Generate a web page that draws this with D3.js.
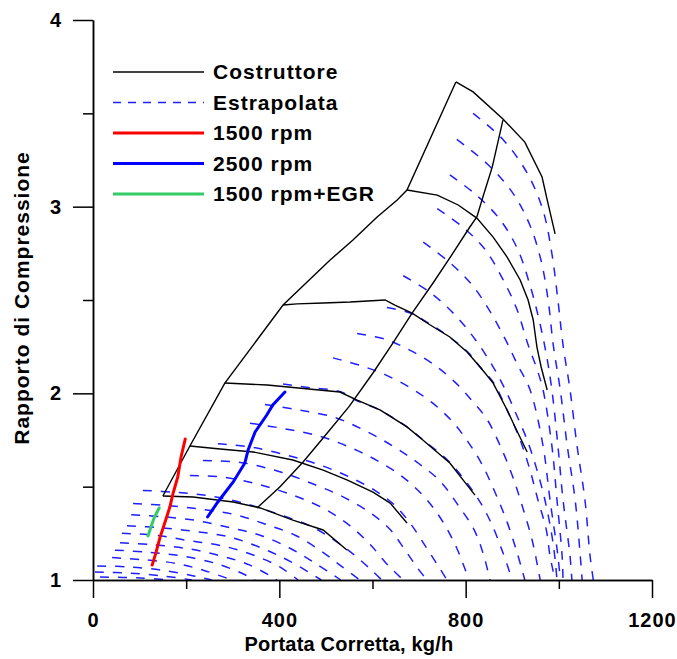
<!DOCTYPE html>
<html>
<head>
<meta charset="utf-8">
<script src="https://cdn.jsdelivr.net/npm/d3@7"></script>
<style>
  body { margin: 0; background: #fff; }
  text { font-family: "Liberation Sans", Arial, sans-serif; font-weight: bold; }
</style>
</head>
<body>
<script>
// axes
const xMajor = [0, 400, 800, 1200];
const xMinor = [200, 600, 1000];
const yMajor = [1, 2, 3, 4];
const yMinor = [1.5, 2.5, 3.5];

// Costruttore (black) lines: [portata kg/h, rapporto]
const surgeLine = [[150,1.45],[208,1.718],[283,2.055],[408,2.473],[509,2.714],[558,2.821],[610,2.945],[653,3.036],[674,3.089],[779,3.668]];
const speed1 = [[779,3.668],[816,3.615],[880,3.47],[927,3.346],[964,3.159],[975,3.036],[992,2.854]];
const speed2 = [[674,3.089],[739,3.062],[784,3.009],[824,2.939],[859,2.837],[889,2.73],[917,2.607],[934,2.5],[945,2.393],[953,2.248],[962,2.141],[975,2.018]];
const speed3 = [[408,2.473],[438,2.479],[494,2.484],[552,2.489],[627,2.5],[648,2.473],[685,2.43],[724,2.366],[766,2.302],[803,2.221],[831,2.141],[859,2.055],[889,1.911],[906,1.82],[932,1.686]];
const speed4 = [[283,2.055],[374,2.045],[530,2.007],[567,1.964],[616,1.911],[674,1.82],[708,1.75],[766,1.627],[820,1.455]];
const speed5 = [[208,1.718],[273,1.702],[344,1.686],[429,1.643],[494,1.589],[545,1.536],[601,1.471],[638,1.412],[674,1.305]];
const speed6 = [[150,1.45],[215,1.445],[301,1.418],[359,1.386],[429,1.321],[494,1.268],[545,1.161]];
const crossLine = [[352,1.386],[401,1.498],[451,1.632],[494,1.761],[550,1.93],[601,2.109],[644,2.27],[685,2.43],[730,2.591],[773,2.752],[809,2.891],[824,2.945],[837,3.052],[857,3.212],[880,3.464]];

// Estrapolata (blue dashed) lines
const estrapolata = [
  [[816,3.50],[880,3.36],[932,3.18],[966,2.98],[985,2.75],[998,2.50],[1009,2.26],[1024,2.02],[1039,1.72],[1056,1.43],[1067,1.13],[1074,1.0]],
  [[781,3.36],[846,3.23],[902,3.07],[938,2.90],[962,2.71],[977,2.50],[988,2.26],[1003,2.02],[1018,1.72],[1035,1.43],[1046,1.13],[1050,1.0]],
  [[766,3.17],[824,3.06],[874,2.93],[912,2.77],[938,2.58],[958,2.39],[973,2.21],[985,2.02],[998,1.72],[1009,1.43],[1024,1.13],[1028,1.0]],
  [[739,2.99],[794,2.89],[842,2.77],[880,2.61],[910,2.45],[934,2.26],[953,2.13],[966,2.02],[985,1.72],[996,1.43],[1007,1.13],[1009,1.0]],
  [[709,2.81],[766,2.70],[814,2.58],[852,2.44],[885,2.29],[912,2.15],[938,2.02],[966,1.72],[981,1.43],[998,1.13],[1003,1.0]],
  [[666,2.63],[724,2.54],[777,2.42],[820,2.29],[857,2.15],[885,2.02],[910,1.88],[932,1.75],[953,1.59],[970,1.43],[985,1.24],[992,1.11],[996,1.0]],
  [[631,2.46],[681,2.43],[724,2.37],[766,2.30],[805,2.22],[831,2.14],[859,2.06],[889,1.91],[917,1.75],[938,1.59],[955,1.43],[973,1.27],[981,1.13],[992,1.0]],
  [[567,2.32],[627,2.29],[681,2.23],[734,2.15],[777,2.06],[814,1.96],[846,1.86],[874,1.72],[900,1.56],[921,1.40],[943,1.21],[960,1.0]],
  [[515,2.19],[573,2.15],[627,2.10],[681,2.03],[728,1.95],[771,1.85],[805,1.74],[835,1.62],[863,1.47],[889,1.31],[910,1.15],[927,1.0]],
  [[408,2.05],[466,2.03],[530,2.01],[567,1.96],[616,1.91],[674,1.82],[709,1.75],[766,1.63],[820,1.46],[852,1.32],[878,1.16],[900,1.0]],
  [[369,1.94],[444,1.91],[520,1.87],[584,1.80],[642,1.72],[696,1.63],[745,1.53],[784,1.40],[818,1.27],[839,1.13],[852,1.0]],
  [[337,1.84],[412,1.81],[487,1.77],[552,1.71],[610,1.64],[666,1.55],[713,1.44],[749,1.32],[781,1.17],[807,1.0]],
  [[268,1.73],[344,1.71],[429,1.66],[494,1.61],[552,1.55],[605,1.48],[648,1.40],[685,1.29],[719,1.16],[745,1.06],[760,1.0]],
  [[236,1.64],[316,1.63],[401,1.58],[477,1.51],[541,1.44],[595,1.36],[638,1.27],[670,1.16],[698,1.06],[717,1.0]],
  [[208,1.56],[283,1.55],[359,1.51],[434,1.45],[498,1.38],[552,1.29],[595,1.19],[633,1.08],[666,1.0]],
  [[107,1.48],[176,1.47],[251,1.45],[326,1.41],[401,1.35],[466,1.29],[520,1.21],[563,1.13],[599,1.05],[620,1.0]],
  [[86,1.41],[155,1.40],[230,1.38],[305,1.35],[369,1.30],[434,1.24],[487,1.16],[530,1.08],[573,1.0]],
  [[82,1.35],[144,1.34],[219,1.32],[294,1.28],[359,1.24],[423,1.17],[477,1.09],[532,1.0]],
  [[73,1.29],[144,1.28],[219,1.26],[294,1.23],[363,1.17],[423,1.10],[490,1.0]],
  [[62,1.25],[133,1.24],[208,1.21],[283,1.18],[348,1.13],[401,1.07],[440,1.0]],
  [[58,1.20],[122,1.19],[198,1.17],[273,1.13],[337,1.08],[395,1.0]],
  [[47,1.16],[112,1.15],[187,1.13],[262,1.09],[316,1.04],[348,1.0]],
  [[41,1.12],[101,1.11],[176,1.09],[240,1.05],[298,1.0]],
  [[9,1.075],[79,1.07],[155,1.05],[219,1.02],[255,1.0]],
  [[4,1.043],[79,1.037],[155,1.02],[213,1.0]],
  [[15,1.016],[101,1.011],[167,1.0]]
];

// measured operating lines
const rpm1500 = [[127,1.08],[135,1.145],[144,1.23],[154,1.305],[165,1.391],[172,1.466],[182,1.552],[189,1.659],[198,1.755]];
const rpm2500 = [[246,1.338],[268,1.418],[301,1.525],[326,1.627],[333,1.696],[348,1.793],[373,1.884],[386,1.938],[412,2.007]];
const rpm1500egr = [[142,1.386],[131,1.332],[118,1.236]];

const legendLabels = ["Costruttore", "Estrapolata", "1500 rpm", "2500 rpm", "1500 rpm+EGR"];
const legendStyles = [
  {stroke: "#000", width: 1.4, dash: null},
  {stroke: "#1f1fff", width: 1.5, dash: "8,7"},
  {stroke: "#ff0000", width: 3, dash: null},
  {stroke: "#0000ff", width: 3, dash: null},
  {stroke: "#33cc66", width: 3, dash: null}
];

const width = 677, height = 659;
const x = d3.scaleLinear().domain([0, 1200]).range([93, 652]);
const y = d3.scaleLinear().domain([1, 4]).range([580, 20]);

const svg = d3.select("body").append("svg")
  .attr("width", width).attr("height", height);
svg.append("rect").attr("width", width).attr("height", height).attr("fill", "#fff");

const smooth = d3.line().x(d => x(d[0])).y(d => y(d[1])).curve(d3.curveCatmullRom.alpha(0.5));
const poly = d3.line().x(d => x(d[0])).y(d => y(d[1]));

// extrapolated speed lines
svg.append("g")
  .selectAll("path")
  .data(estrapolata)
  .join("path")
  .attr("d", smooth)
  .attr("fill", "none")
  .attr("stroke", "#1f1fff")
  .attr("stroke-width", 1.5)
  .attr("stroke-dasharray", "9,9");

// manufacturer map
svg.append("g")
  .selectAll("path")
  .data([surgeLine, speed1, speed2, speed3, speed4, speed5, speed6, crossLine])
  .join("path")
  .attr("d", poly)
  .attr("fill", "none")
  .attr("stroke", "#000")
  .attr("stroke-width", 1.4);

// operating lines
const ops = [[rpm1500, "#ff0000"], [rpm2500, "#0000ff"], [rpm1500egr, "#33cc66"]];
svg.append("g")
  .selectAll("path")
  .data(ops)
  .join("path")
  .attr("d", d => poly(d[0]))
  .attr("fill", "none")
  .attr("stroke", d => d[1])
  .attr("stroke-width", 3)
  .attr("stroke-linecap", "round");

// axes
function styleAxis(g) {
  g.selectAll("path, line").attr("stroke", "#000").attr("stroke-width", 1.5);
  g.selectAll("text").attr("fill", "#000").style("font-size", "20px").style("letter-spacing", "1px");
}

svg.append("g").attr("transform", "translate(0,580)")
  .call(d3.axisBottom(x).tickValues(xMinor).tickSize(9).tickSizeOuter(0).tickFormat(""))
  .call(styleAxis);
svg.append("g").attr("transform", "translate(0,580)")
  .call(d3.axisBottom(x).tickValues(xMajor).tickSize(18).tickSizeOuter(0).tickPadding(15).tickFormat(d3.format("d")))
  .call(styleAxis);
svg.append("g").attr("transform", "translate(93,0)")
  .call(d3.axisLeft(y).tickValues(yMinor).tickSize(10).tickSizeOuter(0).tickFormat(""))
  .call(styleAxis);
svg.append("g").attr("transform", "translate(93,0)")
  .call(d3.axisLeft(y).tickValues(yMajor).tickSize(20).tickSizeOuter(0).tickPadding(11).tickFormat(d3.format("d")))
  .call(styleAxis);

// axis titles
svg.append("text")
  .attr("x", 349).attr("y", 651)
  .attr("text-anchor", "middle")
  .style("font-size", "20px")
  .style("letter-spacing", "0.2px")
  .text("Portata Corretta, kg/h");

svg.append("text")
  .attr("transform", "translate(29,298) rotate(-90)")
  .attr("text-anchor", "middle")
  .style("font-size", "21px")
  .style("letter-spacing", "1px")
  .text("Rapporto di Compressione");

// legend
const legend = svg.append("g")
  .selectAll("g")
  .data(legendLabels)
  .join("g")
  .attr("transform", (d, i) => `translate(0,${72 + i * 30.5})`);

legend.append("line")
  .attr("x1", 113).attr("x2", 204)
  .attr("stroke", (d, i) => legendStyles[i].stroke)
  .attr("stroke-width", (d, i) => legendStyles[i].width)
  .attr("stroke-dasharray", (d, i) => legendStyles[i].dash);

legend.append("text")
  .attr("x", 213).attr("dy", "0.35em")
  .style("font-size", "21px")
  .style("letter-spacing", "1px")
  .text(d => d);
</script>
</body>
</html>
